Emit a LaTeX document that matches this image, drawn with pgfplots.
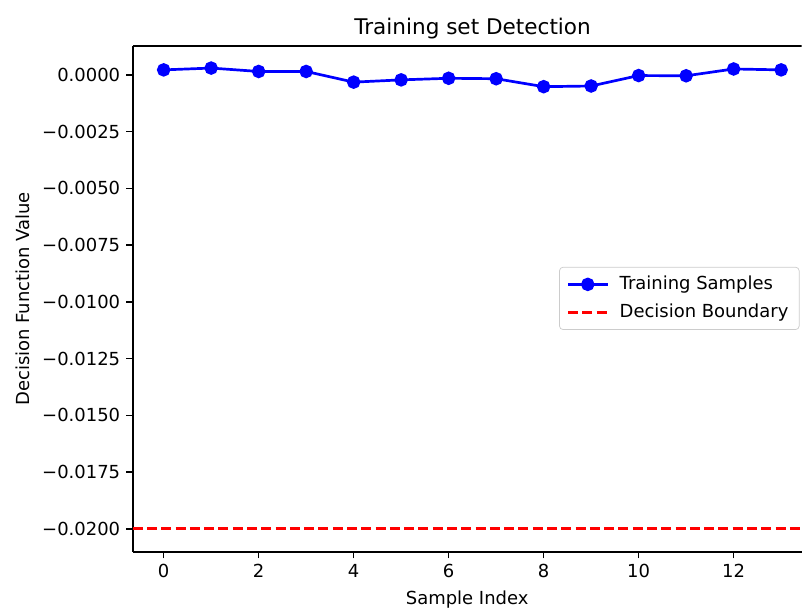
\documentclass[border=0pt]{standalone}
\usepackage{fontspec}
\setmainfont{DejaVu Sans}
\usepackage{pgfplots}
\pgfplotsset{compat=1.18}
\begin{document}
\begin{tikzpicture}
\path[use as bounding box] (-73.9pt,-31.2pt) rectangle (373pt,307.2pt);
\begin{axis}[
  at={(0,0)}, anchor=south west,
  width=372.2pt, height=281.7pt, scale only axis,
  xmin=-0.65, xmax=13.43, ymin=-0.02102, ymax=0.00128,
  scaled y ticks=false, scaled x ticks=false,
  axis x line*=bottom, axis y line*=left,
  axis line style={line width=0.8pt, black},
  tick pos=left, tick align=outside,
  major tick length=3.5pt,
  tick style={line width=0.8pt, black},
  xtick={0,2,4,6,8,10,12},
  ytick={-0.02,-0.0175,-0.015,-0.0125,-0.01,-0.0075,-0.005,-0.0025,0},
  yticklabels={−0.0200,−0.0175,−0.0150,−0.0125,−0.0100,−0.0075,−0.0050,−0.0025,0.0000},
  /pgf/number format/assume math mode=true,
  ticklabel style={font=\fontsize{10}{12}\selectfont},
  xlabel={Sample Index},
  ylabel={Decision Function Value},
  label style={font=\fontsize{10}{12}\selectfont},
  title={Training set Detection},
  title style={at={(0.5,1)}, anchor=base, yshift=0.3pt, xshift=3pt, font=\fontsize{12}{14}\selectfont},
  legend style={at={(0.997,0.501)}, anchor=east, draw=black!20, rounded corners=2pt,
    fill=white, font=\fontsize{10}{12}\selectfont, cells={anchor=west},
    inner xsep=4pt, inner ysep=3pt, row sep=2.5pt,
    /tikz/every odd column/.append style={column sep=4pt}},
  legend image code/.code={\draw[mark repeat=2,mark phase=2] plot coordinates {(0pt,0pt) (11pt,0pt) (22pt,0pt)};},
]
\draw[line width=0.8pt, black] (rel axis cs:0,1) -- (rel axis cs:1,1);
\addplot[blue, line width=1.5pt, mark=*, mark size=3pt, mark options={solid, fill=blue, draw=blue}] coordinates {
(0,0.00022) (1,0.00030) (2,0.00015) (3,0.00015) (4,-0.00032) (5,-0.00022) (6,-0.00015)
(7,-0.00017) (8,-0.00052) (9,-0.00049) (10,-0.00003) (11,-0.00004) (12,0.00026) (13,0.00022)
};
\addlegendentry{Training Samples}
\addplot[red, line width=1.5pt, dash pattern=on 5.55pt off 2.4pt] coordinates {(-0.65,-0.02) (13.43,-0.02)};
\addlegendentry{Decision Boundary}
\end{axis}
\end{tikzpicture}
\end{document}
